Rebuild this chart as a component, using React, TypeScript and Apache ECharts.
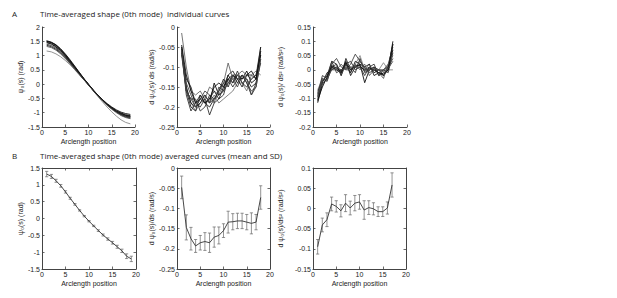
import React, { useEffect, useRef } from "react";
import * as echarts from "echarts";

// ---------- data ----------
const posA1 = [1, 2, 3, 4, 5, 6, 7, 8, 9, 10, 11, 12, 13, 14, 15, 16, 17, 18, 19];
const posA2 = [1, 2, 3, 4, 5, 6, 7, 8, 9, 10, 11, 12, 13, 14, 15, 16, 17, 18];
const posA3 = [1, 2, 3, 4, 5, 6, 7, 8, 9, 10, 11, 12, 13, 14, 15, 16, 17];

// A1: individual shape curves psi0(s)
const shapeCurves: number[][] = [
  [1.52, 1.47, 1.38, 1.24, 1.06, 0.86, 0.64, 0.42, 0.2, 0.0, -0.2, -0.38, -0.54, -0.68, -0.8, -0.9, -0.98, -1.03, -1.06],
  [1.5, 1.45, 1.35, 1.2, 1.02, 0.82, 0.61, 0.4, 0.19, -0.01, -0.21, -0.39, -0.55, -0.7, -0.83, -0.94, -1.03, -1.09, -1.12],
  [1.47, 1.42, 1.32, 1.18, 1.0, 0.8, 0.59, 0.38, 0.18, -0.02, -0.22, -0.41, -0.58, -0.73, -0.86, -0.97, -1.06, -1.12, -1.15],
  [1.45, 1.4, 1.3, 1.16, 0.98, 0.78, 0.57, 0.37, 0.17, -0.02, -0.21, -0.4, -0.57, -0.72, -0.85, -0.96, -1.04, -1.1, -1.13],
  [1.4, 1.35, 1.26, 1.12, 0.95, 0.76, 0.56, 0.36, 0.17, -0.02, -0.21, -0.39, -0.56, -0.71, -0.84, -0.95, -1.05, -1.12, -1.17],
  [1.36, 1.31, 1.22, 1.09, 0.92, 0.74, 0.55, 0.35, 0.16, -0.03, -0.22, -0.4, -0.57, -0.72, -0.86, -0.98, -1.08, -1.15, -1.19],
  [1.32, 1.28, 1.19, 1.06, 0.9, 0.72, 0.53, 0.34, 0.16, -0.03, -0.22, -0.41, -0.58, -0.74, -0.88, -1.0, -1.1, -1.17, -1.21],
  [1.16, 1.13, 1.06, 0.96, 0.83, 0.68, 0.51, 0.33, 0.15, -0.04, -0.23, -0.43, -0.62, -0.8, -0.97, -1.12, -1.25, -1.34, -1.39],
  [1.5, 1.46, 1.37, 1.22, 1.04, 0.83, 0.62, 0.4, 0.19, -0.01, -0.2, -0.38, -0.55, -0.7, -0.82, -0.93, -1.01, -1.07, -1.1],
];
const shapeColors = ["#111", "#111", "#222", "#111", "#333", "#222", "#555", "#888", "#111"];

// A2: individual first-derivative curves
const d1Curves: number[][] = [
  [-0.015, -0.1, -0.16, -0.17, -0.16, -0.18, -0.15, -0.16, -0.17, -0.14, -0.09, -0.13, -0.12, -0.11, -0.12, -0.13, -0.12, -0.05],
  [-0.05, -0.15, -0.19, -0.2, -0.19, -0.17, -0.19, -0.14, -0.17, -0.16, -0.12, -0.14, -0.12, -0.13, -0.11, -0.14, -0.13, -0.05],
  [-0.055, -0.16, -0.2, -0.21, -0.17, -0.19, -0.2, -0.18, -0.16, -0.13, -0.15, -0.12, -0.14, -0.12, -0.13, -0.15, -0.14, -0.06],
  [-0.06, -0.17, -0.21, -0.19, -0.2, -0.18, -0.22, -0.19, -0.18, -0.17, -0.13, -0.14, -0.11, -0.14, -0.15, -0.13, -0.12, -0.07],
  [-0.06, -0.14, -0.17, -0.2, -0.18, -0.16, -0.17, -0.19, -0.15, -0.16, -0.14, -0.13, -0.15, -0.12, -0.14, -0.16, -0.15, -0.08],
  [-0.065, -0.13, -0.15, -0.19, -0.17, -0.19, -0.18, -0.16, -0.18, -0.15, -0.12, -0.11, -0.13, -0.15, -0.12, -0.12, -0.13, -0.06],
  [-0.07, -0.16, -0.18, -0.18, -0.21, -0.2, -0.17, -0.18, -0.16, -0.14, -0.13, -0.15, -0.13, -0.12, -0.14, -0.17, -0.14, -0.09],
  [-0.05, -0.15, -0.19, -0.21, -0.19, -0.18, -0.19, -0.17, -0.19, -0.18, -0.17, -0.16, -0.14, -0.14, -0.16, -0.12, -0.11, -0.12],
  [-0.045, -0.12, -0.16, -0.19, -0.18, -0.19, -0.18, -0.15, -0.14, -0.15, -0.13, -0.12, -0.13, -0.13, -0.12, -0.11, -0.13, -0.07],
  [-0.06, -0.16, -0.18, -0.2, -0.18, -0.17, -0.19, -0.18, -0.17, -0.16, -0.14, -0.12, -0.12, -0.14, -0.13, -0.17, -0.15, -0.08],
];
const d1Colors = ["#666", "#111", "#222", "#333", "#444", "#222", "#333", "#777", "#111", "#444"];

// A3: individual second-derivative curves
const d2Curves: number[][] = [
  [-0.115, -0.05, -0.03, 0.01, 0.0, -0.01, 0.02, -0.01, 0.03, 0.02, -0.045, 0.0, 0.01, -0.02, -0.01, 0.0, 0.1],
  [-0.11, -0.04, -0.02, 0.03, 0.02, -0.02, 0.04, 0.0, 0.01, 0.01, 0.0, 0.01, -0.01, 0.0, -0.02, 0.01, 0.09],
  [-0.1, -0.03, -0.04, 0.02, 0.04, 0.01, 0.0, 0.02, 0.055, 0.03, 0.01, -0.01, 0.0, -0.01, 0.0, 0.02, 0.08],
  [-0.09, -0.045, -0.01, 0.0, 0.01, -0.01, 0.03, -0.02, 0.01, 0.02, 0.01, 0.02, -0.02, -0.01, -0.02, 0.0, 0.07],
  [-0.085, -0.02, -0.03, 0.03, -0.01, 0.0, 0.01, 0.01, -0.01, 0.04, -0.01, 0.0, 0.01, 0.0, 0.0, -0.01, 0.06],
  [-0.08, -0.05, -0.03, 0.0, 0.0, 0.02, 0.0, 0.0, 0.02, 0.0, 0.02, -0.02, 0.0, -0.01, -0.03, 0.02, 0.05],
  [-0.075, -0.04, -0.02, 0.01, 0.02, -0.02, 0.02, 0.03, 0.0, 0.01, -0.02, 0.01, 0.02, -0.02, 0.0, 0.01, 0.04],
  [-0.07, -0.03, -0.04, 0.01, 0.0, 0.0, 0.01, -0.01, 0.02, 0.05, 0.0, 0.02, -0.01, 0.0, 0.025, 0.0, 0.0],
  [-0.105, -0.06, -0.025, 0.015, 0.005, -0.005, 0.025, 0.0, 0.015, 0.015, -0.005, 0.005, 0.0, -0.01, -0.015, 0.0, 0.09],
  [-0.095, -0.035, -0.035, 0.005, 0.01, 0.0, 0.005, 0.01, 0.01, 0.03, 0.005, 0.0, 0.005, 0.0, -0.005, 0.005, 0.03],
];
const d2Colors = ["#111", "#222", "#444", "#111", "#333", "#555", "#333", "#888", "#111", "#444"];

// B: averaged curves (mean and SD)
const shapeMean = [1.32, 1.25, 1.12, 0.97, 0.79, 0.6, 0.42, 0.24, 0.07, -0.08, -0.22, -0.36, -0.49, -0.61, -0.72, -0.84, -0.96, -1.12, -1.2];
const shapeSD = [0.08, 0.06, 0.045, 0.04, 0.035, 0.03, 0.025, 0.02, 0.02, 0.02, 0.02, 0.025, 0.03, 0.035, 0.04, 0.045, 0.05, 0.07, 0.08];

const d1Mean = [-0.048, -0.147, -0.175, -0.193, -0.185, -0.182, -0.185, -0.171, -0.167, -0.155, -0.134, -0.133, -0.131, -0.131, -0.134, -0.137, -0.134, -0.073];
const d1SD = [0.028, 0.031, 0.028, 0.016, 0.018, 0.022, 0.024, 0.025, 0.021, 0.017, 0.027, 0.02, 0.019, 0.019, 0.019, 0.026, 0.019, 0.029];

const d2Mean = [-0.095, -0.041, -0.028, 0.011, 0.005, -0.006, 0.013, 0.001, 0.013, 0.016, -0.004, 0.002, -0.001, -0.008, -0.008, 0.001, 0.058];
const d2SD = [0.018, 0.017, 0.017, 0.017, 0.014, 0.015, 0.021, 0.017, 0.019, 0.018, 0.023, 0.017, 0.015, 0.012, 0.012, 0.015, 0.03];

const xTicks = { min: 0, max: 20, interval: 5 };
const titleA = "Time-averaged shape (0th mode)  individual curves";
const titleB = "Time-averaged shape (0th mode) averaged curves (mean and SD)";
const xName = "Arclength position";

// ---------- chart ----------
const AX = "#444";
const TICK_FONT = "Liberation Sans";

export default function App() {
  const ref = useRef<HTMLDivElement>(null);
  useEffect(() => {
    document.body.style.margin = "0";
    const chart = echarts.init(ref.current!, null, { renderer: "svg" });

    const grids = [
      { left: 42, top: 27, width: 93, height: 100 },
      { left: 177, top: 27, width: 93, height: 100 },
      { left: 313, top: 27, width: 94, height: 100 },
      { left: 42, top: 168, width: 94, height: 101 },
      { left: 177, top: 168, width: 93, height: 101 },
      { left: 313, top: 168, width: 93, height: 101 },
    ];

    const yConf = [
      { min: -1.5, max: 2, interval: 0.5, name: "ψ₀(s) (rad)", gap: 17 },
      { min: -0.25, max: 0, interval: 0.05, name: "d ψ₀(s)/ ds (rad/s)", gap: 22 },
      { min: -0.2, max: 0.15, interval: 0.05, name: "d ψ₀(s)/ ds² (rad/s²)", gap: 29 },
      { min: -1.5, max: 1.5, interval: 0.5, name: "ψ₀(s) (rad)", gap: 18 },
      { min: -0.25, max: 0, interval: 0.05, name: "d ψ₀(s)/ds (rad/s)", gap: 22 },
      { min: -0.15, max: 0.1, interval: 0.05, name: "d ψ₀(s)/ds² (rad/s²)", gap: 29 },
    ];

    const axisLine = { show: true, onZero: false, lineStyle: { color: AX, width: 1 } };
    const axisTick = { show: true, inside: true, length: 2.5, lineStyle: { color: AX, width: 0.8 } };
    const labelStyle = { color: "#222", fontSize: 7, fontFamily: TICK_FONT, margin: 2 };

    const xAxis: any[] = [];
    const yAxis: any[] = [];
    grids.forEach((g, i) => {
      xAxis.push({
        type: "value",
        gridIndex: i,
        ...xTicks,
        name: xName,
        nameLocation: "middle",
        nameGap: 11,
        nameTextStyle: { fontSize: 7, fontFamily: TICK_FONT, color: "#222" },
        axisLine,
        axisTick,
        axisLabel: labelStyle,
        splitLine: { show: false },
      });
      const yc = yConf[i];
      yAxis.push({
        type: "value",
        gridIndex: i,
        min: yc.min,
        max: yc.max,
        interval: yc.interval,
        name: yc.name,
        nameLocation: "middle",
        nameRotate: 90,
        nameGap: yc.gap,
        nameTextStyle: { fontSize: 7, fontFamily: TICK_FONT, color: "#222" },
        axisLine,
        axisTick,
        axisLabel: labelStyle,
        splitLine: { show: false },
      });
    });
    // box axes for B row
    [3, 4, 5].forEach((i) => {
      xAxis.push({
        type: "value",
        gridIndex: i,
        position: "top",
        ...xTicks,
        axisLine,
        axisTick,
        axisLabel: { show: false },
        splitLine: { show: false },
      });
      const yc = yConf[i];
      yAxis.push({
        type: "value",
        gridIndex: i,
        position: "right",
        min: yc.min,
        max: yc.max,
        interval: yc.interval,
        axisLine,
        axisTick,
        axisLabel: { show: false },
        splitLine: { show: false },
      });
    });

    const series: any[] = [];
    const addCurves = (curves: number[][], pos: number[], colors: string[], idx: number) => {
      curves.forEach((c, k) => {
        series.push({
          type: "line",
          xAxisIndex: idx,
          yAxisIndex: idx,
          data: c.map((v, j) => [pos[j], v]),
          showSymbol: false,
          symbol: "none",
          lineStyle: { color: colors[k], width: 0.9 },
          silent: true,
          z: colors[k] === "#888" || colors[k] === "#777" ? 1 : 2,
        });
      });
    };
    addCurves(shapeCurves, posA1, shapeColors, 0);
    addCurves(d1Curves, posA2, d1Colors, 1);
    addCurves(d2Curves, posA3, d2Colors, 2);

    const addMean = (mean: number[], sd: number[], pos: number[], idx: number) => {
      series.push({
        type: "line",
        xAxisIndex: idx,
        yAxisIndex: idx,
        data: mean.map((v, j) => [pos[j], v]),
        symbol: "none",
        lineStyle: { color: "#333", width: 0.9 },
        silent: true,
        z: 3,
      });
      series.push({
        type: "custom",
        xAxisIndex: idx,
        yAxisIndex: idx,
        data: mean.map((v, j) => [pos[j], v - sd[j], v + sd[j]]),
        encode: { x: 0, y: [1, 2] },
        silent: true,
        z: 2,
        renderItem: (_p: any, api: any) => {
          const x = api.value(0);
          const a = api.coord([x, api.value(1)]);
          const b = api.coord([x, api.value(2)]);
          const w = 1.6;
          const st = { stroke: "#666", lineWidth: 0.7 };
          return {
            type: "group",
            children: [
              { type: "line", shape: { x1: a[0], y1: a[1], x2: b[0], y2: b[1] }, style: st },
              { type: "line", shape: { x1: a[0] - w, y1: a[1], x2: a[0] + w, y2: a[1] }, style: st },
              { type: "line", shape: { x1: b[0] - w, y1: b[1], x2: b[0] + w, y2: b[1] }, style: st },
            ],
          };
        },
      });
    };
    addMean(shapeMean, shapeSD, posA1, 3);
    addMean(d1Mean, d1SD, posA2, 4);
    addMean(d2Mean, d2SD, posA3, 5);

    const titleStyle = { fontSize: 8, fontFamily: "Open Sans", color: "#222", fontWeight: "normal" as const };
    chart.setOption({
      animation: false,
      backgroundColor: "#fff",
      title: [
        { text: "A", left: 12, top: 9, padding: 0, textStyle: titleStyle },
        { text: titleA, left: 40, top: 9, padding: 0, textStyle: titleStyle },
        { text: "B", left: 12, top: 151, padding: 0, textStyle: titleStyle },
        { text: titleB, left: 40, top: 151, padding: 0, textStyle: titleStyle },
      ],
      grid: grids,
      xAxis,
      yAxis,
      series,
    });
    return () => chart.dispose();
  }, []);
  return <div ref={ref} style={{ width: 617, height: 298 }} />;
}
